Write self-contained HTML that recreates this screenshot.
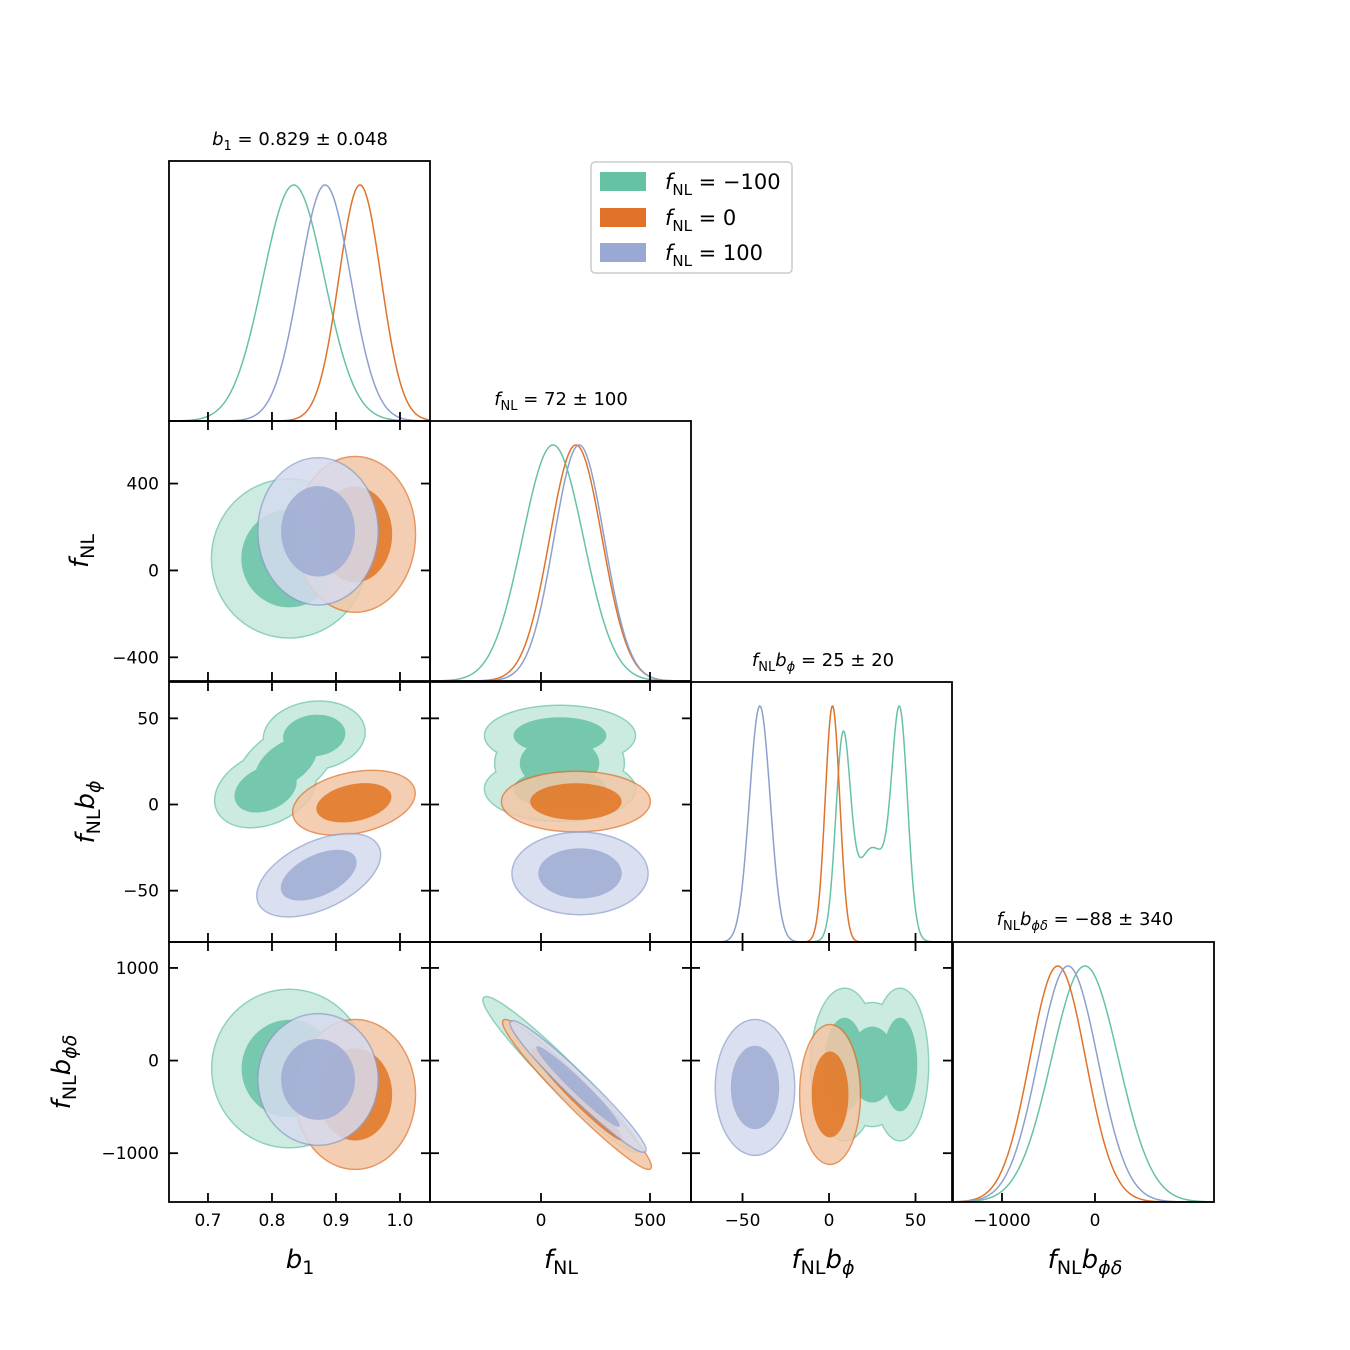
<!DOCTYPE html>
<html><head><meta charset="utf-8"><style>
html,body{margin:0;padding:0;background:#fff}
svg{display:block}
text{font-family:"DejaVu Sans","Liberation Sans",sans-serif;fill:#000}
</style></head><body>
<svg id="fig" width="1350" height="1350" viewBox="0 0 1350 1350" xmlns="http://www.w3.org/2000/svg">
<defs></defs>
<g id="contours"></g>
<g id="curves"></g>
<g id="frames"></g>
<g id="labels"></g>
<g id="legend">
  <rect x="591" y="162" width="201" height="111" rx="4" fill="#fff" stroke="#cccccc" stroke-width="1.5"/>
  <rect x="600" y="172" width="46" height="19" fill="#66c2a5"/>
  <rect x="600" y="208" width="46" height="19" fill="#e0722a"/>
  <rect x="600" y="243" width="46" height="19" fill="#9aa9d3"/>
  <text x="665" y="189" font-size="21"><tspan font-style="italic">f</tspan><tspan font-size="15" dy="6">NL</tspan><tspan dy="-6"> = −100</tspan></text>
  <text x="665" y="225" font-size="21"><tspan font-style="italic">f</tspan><tspan font-size="15" dy="6">NL</tspan><tspan dy="-6"> = 0</tspan></text>
  <text x="665" y="260" font-size="21"><tspan font-style="italic">f</tspan><tspan font-size="15" dy="6">NL</tspan><tspan dy="-6"> = 100</tspan></text>
</g>
</svg>
<script>
// ---- data ----
const seriesNames = ['fnl-minus100','fnl-0','fnl-100'];
const lineColors = ['#66c2a5','#e0722a','#8da0cb'];
const outerFill = ['#c4e8db','#f2c6a6','#d5dbed'];
const innerFill = ['#66c2a5','#e07422','#9dacd3'];
const paramNames = ['b1','fnl','fnl-bphi','fnl-bphidelta'];
const paramLo = [0.6391,-509,-79.8,-1527];
const paramHi = [1.0469,688,71.1,1280];
const xTicks = [[0.7,0.8,0.9,1.0],[0,500],[-50,0,50],[-1000,0]];
const xTickLabels = [['0.7','0.8','0.9','1.0'],['0','500'],['−50','0','50'],['−1000','0']];
const yTicks = [[],[-400,0,400],[-50,0,50],[-1000,0,1000]];
const yTickLabels = [[],['−400','0','400'],['−50','0','50'],['−1000','0','1000']];
// 1D marginals: per param, per series: components [mean, sigma, weight]
const marg_b1 = [[[0.834,0.048,1]],[[0.9375,0.033,1]],[[0.883,0.04,1]]];
const marg_fnl = [[[55,140,1]],[[160,120,1]],[[175,115,1]]];
const marg_phi = [[[8,4.2,0.9],[41,4.5,1],[25,10,0.45]],[[2,4.2,1]],[[-40,6,1]]];
const marg_phid = [[[-108,360,1]],[[-400,300,1]],[[-290,320,1]]];
const marginals = [marg_b1,marg_fnl,marg_phi,marg_phid];
// 2D panels: per series list of gaussian components [mx, my, sx, sy, rho]
const p_b1_fnl = [[[0.8266,55,0.049,148,0]],[[0.930,166,0.038,145,0]],[[0.872,180,0.038,137,0]]];
const p_b1_phi = [[[0.79,9,0.032,9,0.3],[0.866,40,0.032,8,0.1],[0.822,24,0.032,10,0.5]],[[0.928,1,0.0386,7.5,0.3]],[[0.873,-41,0.039,9.7,0.5]]];
const p_b1_phid = [[[0.827,-86,0.049,346,0]],[[0.930,-366,0.038,327,0]],[[0.872,-204,0.038,287,0]]];
const p_fnl_phi = [[[87,40,140,7,0],[87,9,140,7.5,0],[85,24,120,10,0]],[[160,1.7,138,7,0]],[[179,-40,126,9.6,0]]];
const p_fnl_phid = [[[92,-150,145,340,-0.965]],[[165,-366,138,327,-0.97]],[[170,-280,126,287,-0.97]]];
const p_phi_phid = [[[9,-43,7.8,333,0],[41,-43,6.6,333,0],[25,-43,9,270,0]],[[0.6,-366,7,305,0]],[[-42.8,-290,9.2,296,0]]];
const panels2D = [[1,0,p_b1_fnl],[2,0,p_b1_phi],[3,0,p_b1_phid],[2,1,p_fnl_phi],[3,1,p_fnl_phid],[3,2,p_phi_phid]];

// ---- layout ----
const colLeft=[169,430,691,953], rowTop=[161,421,682,942], W=261, H=260;
const NS='http://www.w3.org/2000/svg';
function el(tag,attrs,parent){const e=document.createElementNS(NS,tag);for(const k in attrs)e.setAttribute(k,attrs[k]);parent.appendChild(e);return e;}
function xScale(p,v){return colLeft[p]+(v-paramLo[p])/(paramHi[p]-paramLo[p])*W;}
function yScale(p,v){return rowTop[p]+H-(v-paramLo[p])/(paramHi[p]-paramLo[p])*H;}

const defs=document.querySelector('defs');
const gC=document.getElementById('contours');
function ellipsePath(px,py,c,r){
  let d='';
  for(let i=0;i<=72;i++){const t=i/72*2*Math.PI;
    const vx=c[0]+r*c[2]*Math.cos(t);
    const vy=c[1]+r*c[3]*(c[4]*Math.cos(t)+Math.sqrt(1-c[4]*c[4])*Math.sin(t));
    d+=(i?'L':'M')+xScale(px,vx).toFixed(2)+' '+yScale(py,vy).toFixed(2);}
  return d+'Z';
}
let mid=0;
panels2D.forEach(([row,col,data])=>{
  const pg=el('g',{},gC);
  
  
  const cid='clip'+row+col;
  const cp=el('clipPath',{id:cid},defs);
  el('rect',{x:colLeft[col],y:rowTop[row],width:W,height:H},cp);
  pg.setAttribute('clip-path','url(#'+cid+')');
  data.forEach((comps,s)=>{
    [[2.45,outerFill[s],0.85],[1.52,innerFill[s],0.85]].forEach(([r,fill,op],lev)=>{
      const paths=comps.map(c=>ellipsePath(col,row,c,r));
      const g=el('g',{opacity:op},pg);
      
      
      paths.forEach(d=>el('path',{d:d,fill:fill},g));
      if(lev==0){
        const m=el('mask',{id:'m'+(mid)},defs);
        el('rect',{x:0,y:0,width:1350,height:1350,fill:'#fff'},m);
        paths.forEach(d=>el('path',{d:d,fill:'#000'},m));
        const sg=el('g',{mask:'url(#m'+mid+')',opacity:0.75},pg);
        
        
        paths.forEach(d=>el('path',{d:d,fill:'none',stroke:lineColors[s],'stroke-width':3},sg));
        mid++;
      }
    });
  });
});

// 1D curves
const gK=document.getElementById('curves');
function dens(comps,v){let t=0;comps.forEach(c=>{t+=c[2]*Math.exp(-0.5*((v-c[0])/c[1])**2);});return t;}
marginals.forEach((ser,p)=>{
  ser.forEach((comps,s)=>{
    const N=300;const vals=[];let mx=0;
    for(let i=0;i<=N;i++){const v=paramLo[p]+(paramHi[p]-paramLo[p])*i/N;const f=dens(comps,v);vals.push([v,f]);if(f>mx)mx=f;}
    let d='';
    vals.forEach(([v,f],i)=>{d+=(i?'L':'M')+xScale(p,v).toFixed(2)+' '+(rowTop[p]+H-(H-24)*f/mx).toFixed(2);});
    const path=el('path',{d:d,fill:'none',stroke:lineColors[s],'stroke-width':1.5},gK);
    
    
  });
});

// frames and ticks
const gF=document.getElementById('frames');
const gL=document.getElementById('labels');
const TL=9;
for(let r=0;r<4;r++)for(let c=0;c<=r;c++){
  const x0=colLeft[c],y0=rowTop[r];
  const fr=el('rect',{x:x0,y:y0,width:W,height:H,fill:'none',stroke:'#000','stroke-width':1.8},gF);
  
  
  xTicks[c].forEach(v=>{const x=xScale(c,v);
    const t=el('line',{x1:x,x2:x,y1:y0+H,y2:y0+H-TL,stroke:'#000','stroke-width':1.8},gF);
    
    if(r!==c){const t2=el('line',{x1:x,x2:x,y1:y0,y2:y0+TL,stroke:'#000','stroke-width':1.8},gF);
      }
  });
  if(r!==c){yTicks[r].forEach(v=>{const y=yScale(r,v);
    const t=el('line',{x1:x0,x2:x0+TL,y1:y,y2:y,stroke:'#000','stroke-width':1.8},gF);
    
    const t2=el('line',{x1:x0+W,x2:x0+W-TL,y1:y,y2:y,stroke:'#000','stroke-width':1.8},gF);
    
  });}
}
// tick labels
for(let c=0;c<4;c++){xTicks[c].forEach((v,i)=>{
  const t=el('text',{x:xScale(c,v),y:1226,'font-size':17,'text-anchor':'middle'},gL);
  t.textContent=xTickLabels[c][i];
  });}
for(let r=1;r<4;r++){yTicks[r].forEach((v,i)=>{
  const t=el('text',{x:159,y:yScale(r,v)+6,'font-size':17,'text-anchor':'end'},gL);
  t.textContent=yTickLabels[r][i];
  });}
</script>
<script>
const L=document.getElementById('labels');
L.insertAdjacentHTML('beforeend',`
<text x="300" y="145" font-size="18" text-anchor="middle"><tspan font-style="italic">b</tspan><tspan font-size="13" dy="5">1</tspan><tspan dy="-5"> = 0.829 ± 0.048</tspan></text>
<text x="561" y="405" font-size="18" text-anchor="middle"><tspan font-style="italic">f</tspan><tspan font-size="13" dy="5">NL</tspan><tspan dy="-5"> = 72 ± 100</tspan></text>
<text x="823" y="666" font-size="18" text-anchor="middle"><tspan font-style="italic">f</tspan><tspan font-size="13" dy="5">NL</tspan><tspan dy="-5" font-style="italic">b</tspan><tspan font-size="13" dy="5" font-style="italic">ϕ</tspan><tspan dy="-5"> = 25 ± 20</tspan></text>
<text x="1085" y="925" font-size="18" text-anchor="middle"><tspan font-style="italic">f</tspan><tspan font-size="13" dy="5">NL</tspan><tspan dy="-5" font-style="italic">b</tspan><tspan font-size="13" dy="5" font-style="italic">ϕδ</tspan><tspan dy="-5"> = −88 ± 340</tspan></text>
<text x="300" y="1268" font-size="26" text-anchor="middle"><tspan font-style="italic">b</tspan><tspan font-size="19" dy="6">1</tspan></text>
<text x="561" y="1268" font-size="26" text-anchor="middle"><tspan font-style="italic">f</tspan><tspan font-size="19" dy="6">NL</tspan></text>
<text x="823" y="1268" font-size="26" text-anchor="middle"><tspan font-style="italic">f</tspan><tspan font-size="19" dy="6">NL</tspan><tspan dy="-6" font-style="italic">b</tspan><tspan font-size="19" dy="6" font-style="italic">ϕ</tspan></text>
<text x="1085" y="1268" font-size="26" text-anchor="middle"><tspan font-style="italic">f</tspan><tspan font-size="19" dy="6">NL</tspan><tspan dy="-6" font-style="italic">b</tspan><tspan font-size="19" dy="6" font-style="italic">ϕδ</tspan></text>
<text transform="translate(88,551) rotate(-90)" font-size="26" text-anchor="middle"><tspan font-style="italic">f</tspan><tspan font-size="19" dy="6">NL</tspan></text>
<text transform="translate(94,812) rotate(-90)" font-size="26" text-anchor="middle"><tspan font-style="italic">f</tspan><tspan font-size="19" dy="6">NL</tspan><tspan dy="-6" font-style="italic">b</tspan><tspan font-size="19" dy="6" font-style="italic">ϕ</tspan></text>
<text transform="translate(70,1072) rotate(-90)" font-size="26" text-anchor="middle"><tspan font-style="italic">f</tspan><tspan font-size="19" dy="6">NL</tspan><tspan dy="-6" font-style="italic">b</tspan><tspan font-size="19" dy="6" font-style="italic">ϕδ</tspan></text>
`);
</script>
</body></html>
